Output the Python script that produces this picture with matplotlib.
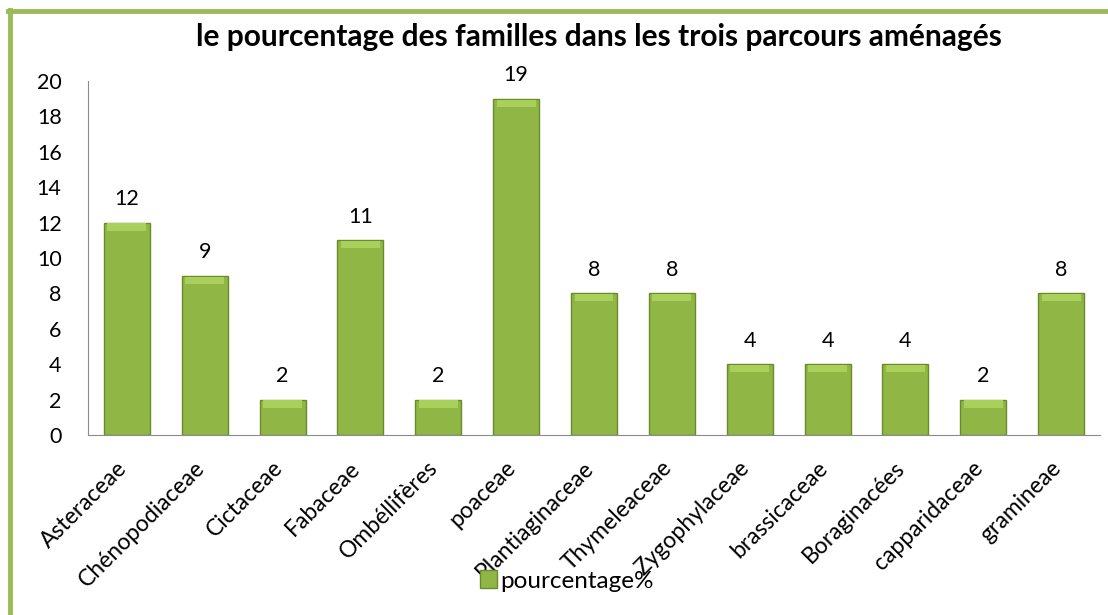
import numpy as np
import matplotlib
matplotlib.use("Agg")
import matplotlib.pyplot as plt
import matplotlib.transforms as mtransforms
from matplotlib.lines import Line2D
from matplotlib.patches import Patch

plt.rcParams['font.family'] = ['Lato', 'DejaVu Sans']

# donnees
familles = ["Asteraceae", "Chénopodiaceae", "Cictaceae", "Fabaceae", "Ombéllifères",
            "poaceae", "Plantiaginaceae", "Thymeleaceae", "Zygophylaceae", "brassicaceae",
            "Boraginacées", "capparidaceae", "gramineae"]
pourcentages = [12, 9, 2, 11, 2, 19, 8, 8, 4, 4, 4, 2, 8]
titre = "le pourcentage des familles dans les trois parcours aménagés"
serie = "pourcentage%"

fig = plt.figure(figsize=(11.08, 6.15), dpi=100)
ax = fig.add_axes([88 / 1108, 1 - 435 / 615, 1012 / 1108, 354 / 615])

x = np.arange(len(familles))
ax.bar(x, pourcentages, width=0.59, color="#90B645", edgecolor="#6B8A2C",
       linewidth=1.0, zorder=2)
# biseau clair en haut des barres
ax.bar(x, [0.4] * len(x), bottom=np.array(pourcentages) - 0.45, width=0.5,
       color="#AAD05C", linewidth=0, zorder=3)

for xi, v in zip(x, pourcentages):
    ax.annotate(str(v), (xi, v), xytext=(0, 17), textcoords="offset points",
                ha="center", va="center", fontsize=15.5)

ax.set_xlim(-0.5, len(familles) - 0.5)
ax.set_ylim(0, 20)
ax.set_yticks(range(0, 21, 2))
ax.tick_params(axis="y", length=0, pad=19, labelsize=15.5)
ax.tick_params(axis="x", length=0, pad=16)
ax.set_xticks(x)
ax.set_xticklabels(familles, rotation=45, ha="right", rotation_mode="anchor", fontsize=16.5)
decalage = mtransforms.ScaledTranslation(-11 / 100, 0, fig.dpi_scale_trans)
for lab in ax.get_xticklabels():
    lab.set_transform(lab.get_transform() + decalage)

for s in ["top", "right"]:
    ax.spines[s].set_visible(False)
ax.spines["left"].set_color("#8C8C8C")
ax.spines["bottom"].set_color("#8C8C8C")

fig.text(0.541, 1 - 37 / 615, titre, ha="center", va="center", fontsize=21.5, fontweight="bold")

fig.legend(handles=[Patch(facecolor="#90B645", edgecolor="#6B8A2C")], labels=[serie],
           loc="center", bbox_to_anchor=(567 / 1108, 1 - 581 / 615), frameon=False,
           fontsize=17.5, handlelength=0.7, handleheight=0.7, handletextpad=0.15)

# cadre vert
fig.add_artist(Line2D([10 / 1108, 10 / 1108], [0, 1 - 10 / 615], color="#9BBB59", lw=3.5))
fig.add_artist(Line2D([8 / 1108, 1], [1 - 11 / 615, 1 - 11 / 615], color="#9BBB59", lw=3.5))

fig.savefig("out.png", dpi=100)
